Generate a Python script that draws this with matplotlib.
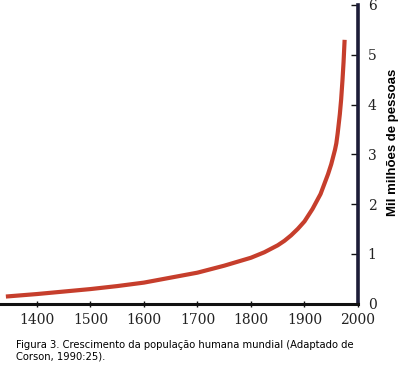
import matplotlib
matplotlib.use("Agg")
import matplotlib.pyplot as plt

years = [1342, 1400, 1450, 1500, 1550, 1600, 1650, 1700, 1750, 1800, 1825, 1850,
         1862.5, 1875, 1887.5, 1900, 1915, 1930, 1944, 1950, 1957, 1959.5, 1962, 1966,
         1968.5, 1971, 1973, 1975]
population = [0.14, 0.19, 0.24, 0.29, 0.35, 0.42, 0.52, 0.62, 0.76, 0.92, 1.03, 1.17,
              1.26, 1.37, 1.50, 1.65, 1.90, 2.20, 2.60, 2.80, 3.09, 3.22, 3.42, 3.80,
              4.10, 4.49, 4.85, 5.30]
xticks = [1400, 1500, 1600, 1700, 1800, 1900, 2000]
yticks = [0, 1, 2, 3, 4, 5, 6]
ylabel = "Mil milhões de pessoas"
caption = "Figura 3. Crescimento da população humana mundial (Adaptado de\nCorson, 1990:25)."

fig = plt.figure(figsize=(4.04, 3.68), dpi=100)
ax = fig.add_axes([0.0, (368 - 303.5) / 368, 358 / 404, 298.5 / 368])

ax.plot(years, population, color="#c63e2c", lw=3.0, solid_capstyle="butt",
        solid_joinstyle="round")

ax.set_xlim(1331, 2000)
ax.set_ylim(0, 6)
ax.set_xticks(xticks)
ax.set_yticks(yticks)

for s in ("top", "left"):
    ax.spines[s].set_visible(False)
ax.spines["right"].set_color("#1c1c38")
ax.spines["right"].set_linewidth(2.6)
ax.spines["bottom"].set_color("#111111")
ax.spines["bottom"].set_linewidth(2.2)

ax.yaxis.tick_right()
ax.tick_params(axis="y", direction="in", length=5, width=1, color="#111111",
               labelsize=10, pad=7)
ax.tick_params(axis="x", direction="inout", length=5, width=1, color="#111111",
               labelsize=10, pad=4)
for lab in ax.get_xticklabels() + ax.get_yticklabels():
    lab.set_family("DejaVu Serif")
    lab.set_color("#222222")

fig.text(393 / 404, 1 - 142 / 368, ylabel, rotation=90, ha="center", va="center",
         fontsize=9.5, fontweight="bold", family="Liberation Sans")

fig.text(16 / 404, 1 - 340 / 368, caption, ha="left", va="top", fontsize=7.2,
         family="DejaVu Sans", linespacing=1.2)

fig.savefig("out.png", dpi=100)
